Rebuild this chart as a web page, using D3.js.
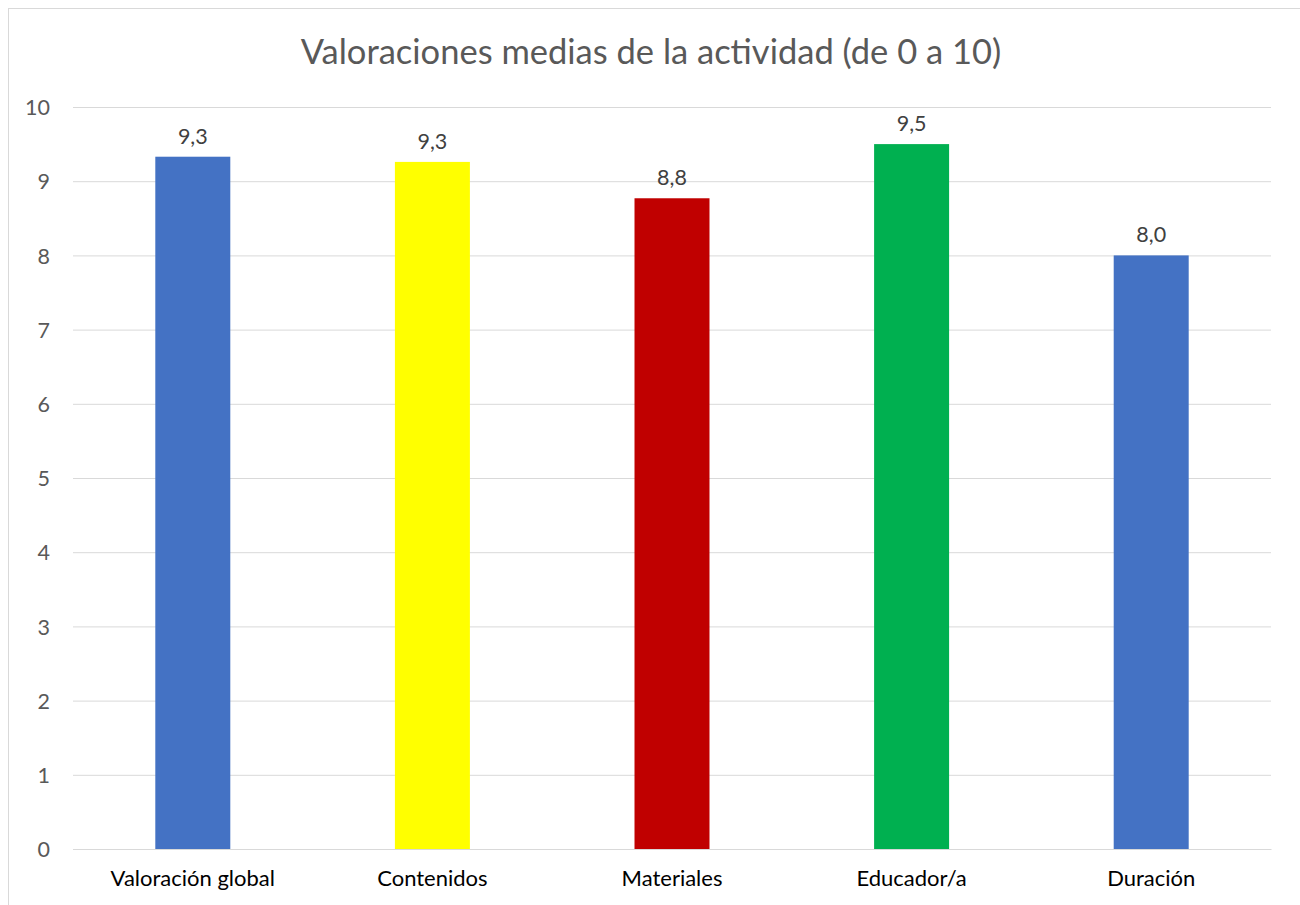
<!DOCTYPE html>
<html><head><meta charset="utf-8">
<script src="https://cdn.jsdelivr.net/npm/d3@7"></script>
<style>html,body{margin:0;padding:0;background:#fff;}svg{display:block;}</style>
</head><body>
<svg id="c" width="1300" height="905"></svg>
<script>
const categories = ["Valoración global","Contenidos","Materiales","Educador/a","Duración"];
const values = [9.33, 9.26, 8.77, 9.50, 8.00];
const labels = ["9,3","9,3","8,8","9,5","8,0"];
const colors = ["#4472C4","#FFFF00","#C00000","#00B050","#4472C4"];
const yTicks = [0,1,2,3,4,5,6,7,8,9,10];
const title = "Valoraciones medias de la actividad (de 0 a 10)";

(function(){
const svg = d3.select("#c");
const font = "Lato, Open Sans, sans-serif";
svg.append("rect").attr("x",8.5).attr("y",8.5).attr("width",1300).attr("height",905)
  .attr("fill","#fff").attr("stroke","#d9d9d9").attr("stroke-width",1);

const pL=73, pR=1271, pT=107, pB=849;
const x = d3.scaleBand().domain(categories).range([pL,pR]).paddingInner(0.687).paddingOuter(0.3435);
const y = d3.scaleLinear().domain([0,10]).range([pB,pT]);

svg.append("text").attr("x",651).attr("y",64).attr("text-anchor","middle")
  .attr("font-family",font).attr("font-size",34.5).attr("fill","#595959").text(title);

const ya = svg.append("g").attr("transform",`translate(${pL},0)`)
  .call(d3.axisLeft(y).tickValues(yTicks).tickSize(-(pR-pL)).tickFormat(d3.format("d")));
ya.select(".domain").remove();
ya.selectAll(".tick line").attr("stroke","#d9d9d9").attr("stroke-width",1);
ya.selectAll(".tick text").attr("x",-23).attr("dy","0.36em").attr("font-family",font).attr("font-size",21.5).attr("fill","#595959");

svg.selectAll("rect.bar").data(categories).enter().append("rect").attr("class","bar")
  .attr("x",d=>x(d)).attr("width",x.bandwidth())
  .attr("y",(d,i)=>y(values[i])).attr("height",(d,i)=>y(0)-y(values[i]))
  .attr("fill",(d,i)=>colors[i]);

svg.selectAll("text.lbl").data(categories).enter().append("text").attr("class","lbl")
  .attr("x",d=>x(d)+x.bandwidth()/2).attr("y",(d,i)=>y(values[i])-13)
  .attr("text-anchor","middle").attr("font-family",font).attr("font-size",21.5).attr("fill","#404040")
  .text((d,i)=>labels[i]);

const xa = svg.append("g").attr("transform",`translate(0,${pB})`)
  .call(d3.axisBottom(x).tickSize(0));
xa.select(".domain").attr("stroke","#d9d9d9");
xa.selectAll(".tick text").attr("dy",0).attr("y",37).attr("font-family",font).attr("font-size",22).attr("fill","#000");
})();
</script>
</body></html>
